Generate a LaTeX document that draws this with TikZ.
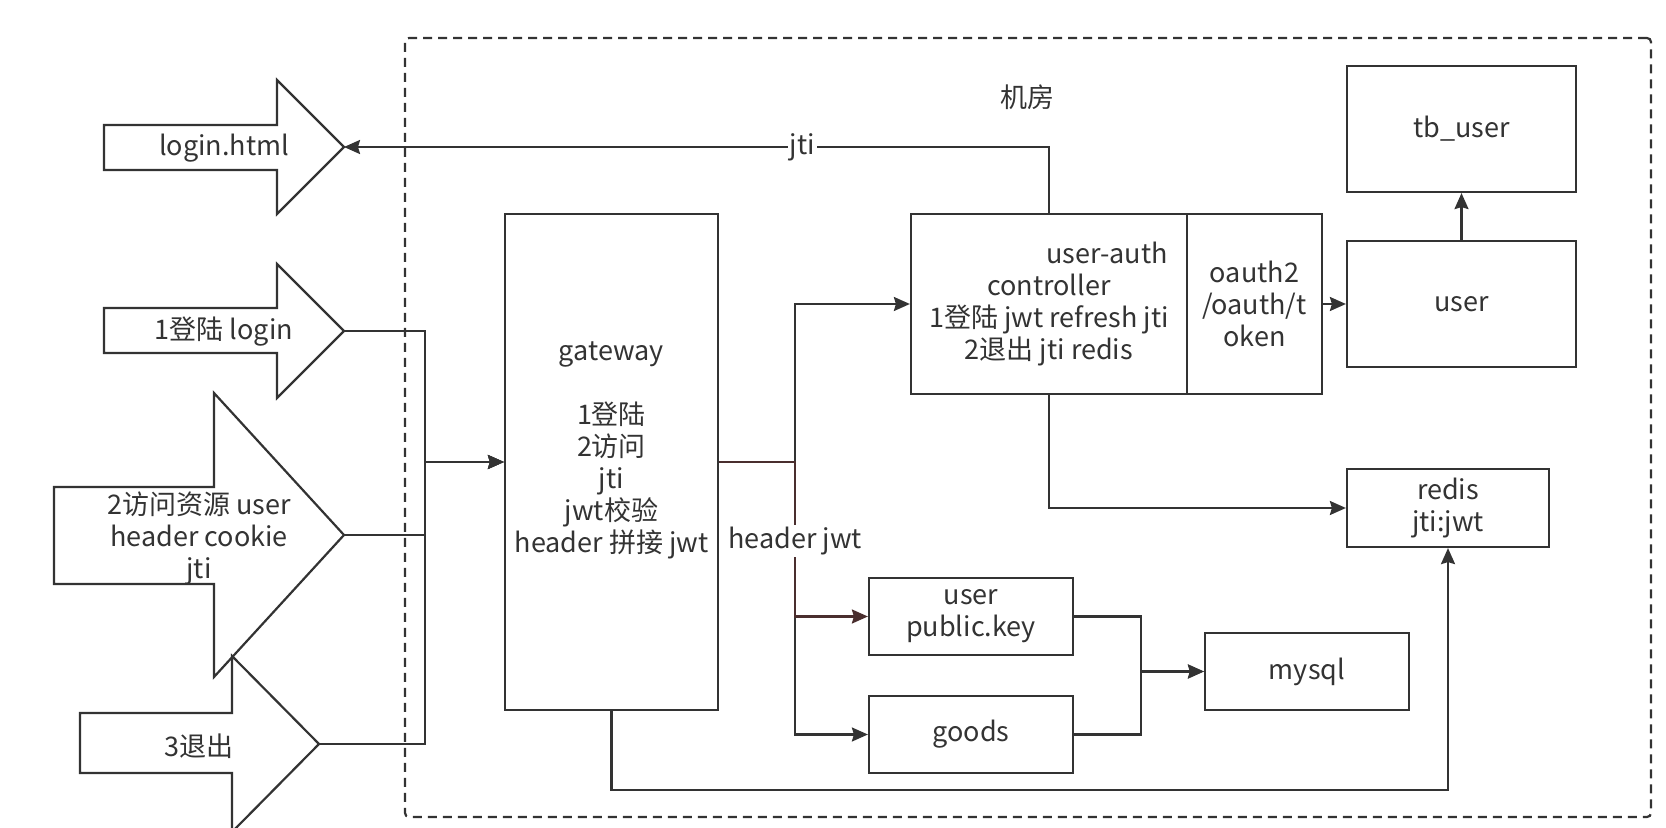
\documentclass[tikz,border=0pt]{standalone}
\usepackage{fontspec}
\setmainfont{Noto Sans CJK SC}
\usetikzlibrary{arrows.meta}
\definecolor{ln}{HTML}{333333}
\definecolor{redln}{HTML}{4A2E2E}
\begin{document}
\begin{tikzpicture}[x=0.5pt,y=-0.5pt,
  every node/.style={font=\fontsize{13.5}{16}\selectfont, text=ln},
  box/.style={draw=ln, line width=1.1pt, fill=white, inner sep=0pt},
  conn/.style={draw=ln, line width=1.1pt, -{Stealth[length=8pt,width=7pt,inset=1pt]}},
  rconn/.style={conn, draw=redln},
  blk/.style={draw=ln, line width=1.1pt, fill=white, line join=miter},
  lbl/.style={fill=white, inner sep=1pt},
  frame/.style={draw=ln, line width=1.1pt, dash pattern=on 4.5pt off 3pt, rounded corners=2pt, inner sep=0pt}
]
\useasboundingbox (0,0) rectangle (1666,828);

% container
\node[frame, minimum width=623pt, minimum height=389.5pt] (room) at (1028,427.5) {};
\node (roomlabel) at (1027,97) {机房};

% block arrows
\draw[blk] (104,125) -- (277,125) -- (277,80) -- (344,147) -- (277,214) -- (277,170) -- (104,170) -- cycle;
\coordinate (a1tip) at (344,147);
\node (a1) at (224,148) {login.html};

\draw[blk] (104,308) -- (277,308) -- (277,264) -- (344,331) -- (277,398) -- (277,353) -- (104,353) -- cycle;
\coordinate (a2tip) at (344,331);
\node (a2) at (224,332) {1登陆 login};

\draw[blk] (54,487) -- (214,487) -- (214,393) -- (344,535) -- (214,677) -- (214,584) -- (54,584) -- cycle;
\coordinate (a3tip) at (344,535);
\node[align=center] (a3) at (199,538) {2访问资源 user\\header cookie\\jti};

\draw[blk] (80,713) -- (232,713) -- (232,656) -- (319,744) -- (232,832) -- (232,773) -- (80,773) -- cycle;
\coordinate (a4tip) at (319,744);
\node (a4) at (199,746) {3退出};

% boxes
\node[box, minimum width=106.5pt, minimum height=248pt] (gateway) at (611.5,462) {};
\node[align=center] (gatewaytext) at (611.5,450) {gateway\\\mbox{}\\1登陆\\2访问\\jti\\jwt校验\\header 拼接 jwt};

\node[box, minimum width=138pt, minimum height=90pt, align=center] (uaL) at (1049,304)
  {\hspace*{58pt}user-auth\\controller\\1登陆 jwt refresh jti\\2退出 jti redis};
\node[box, minimum width=67.5pt, minimum height=90pt, align=center] (uaR) at (1254.5,304)
  {oauth2\\/oauth/t\\oken};

\node[box, minimum width=114.5pt, minimum height=63pt] (tbuser) at (1461.5,129) {tb\_user};
\node[box, minimum width=114.5pt, minimum height=63pt] (user) at (1461.5,304) {user};
\node[box, minimum width=101pt, minimum height=39pt, align=center] (redis) at (1448,508) {redis\\jti:jwt};
\node[box, minimum width=102pt, minimum height=38.5pt, align=center] (userpk) at (971,616.5) {user\\public.key};
\node[box, minimum width=102pt, minimum height=38.5pt] (goods) at (971,734.5) {goods};
\node[box, minimum width=102pt, minimum height=38.5pt] (mysql) at (1307,671.5) {mysql};

% connectors
\draw[conn] (uaL.north) |- node[lbl, pos=0.675] (jtilabel) {jti} (a1tip);

\draw[conn] (a2tip) -- ++(81,0) |- (gateway.west);
\draw[conn] (a3tip) -- ++(81,0) |- (gateway.west);
\draw[conn] (a4tip) -- ++(106,0) |- (gateway.west);

\draw[conn] (gateway.east) -- ++(76,0) |- (uaL.west);
\draw[conn] (gateway.east) -- ++(76,0) |- coordinate[pos=0.145] (hj) (goods.west);
\draw[rconn] (gateway.east) -- ++(76,0) |- (userpk.west);
\node[lbl] (hjlabel) at (hj) {header jwt};

\draw[conn] (uaR.east) -- (user.west);
\draw[conn] (user.north) -- (tbuser.south);
\draw[conn] (uaL.south) |- (redis.west);

\draw[conn] (userpk.east) -- ++(67,0) |- (mysql.west);
\draw[conn] (goods.east) -- ++(67,0) |- (mysql.west);

\draw[conn] (gateway.south) -- ++(0,79) -| (redis.south);
\end{tikzpicture}
\end{document}
